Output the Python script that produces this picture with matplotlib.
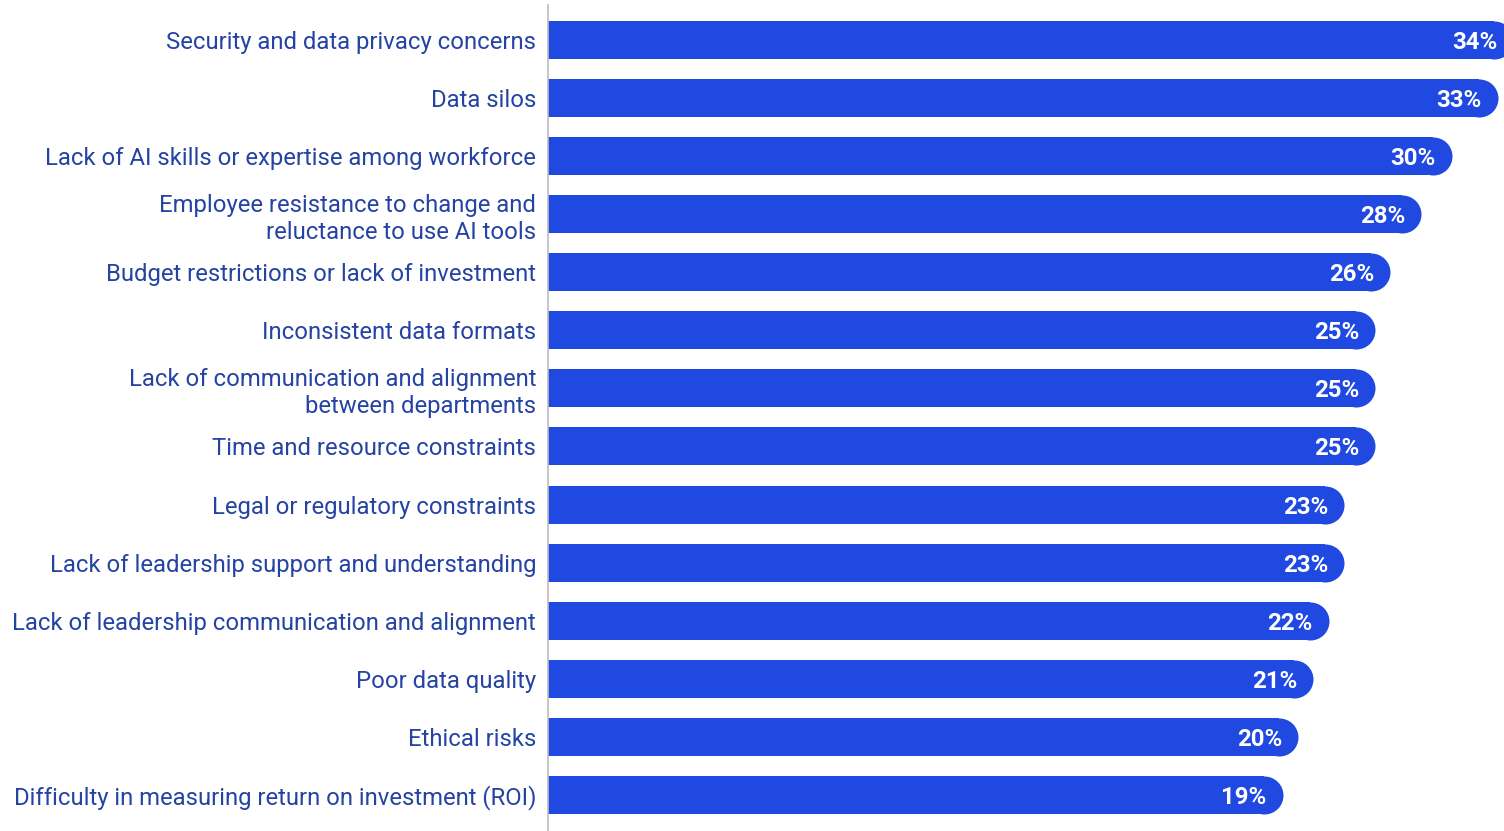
import matplotlib
matplotlib.use("Agg")
import matplotlib.pyplot as plt
import numpy as np

# survey data (top to bottom)
labels = [
    "Security and data privacy concerns",
    "Data silos",
    "Lack of AI skills or expertise among workforce",
    "Employee resistance to change and\nreluctance to use AI tools",
    "Budget restrictions or lack of investment",
    "Inconsistent data formats",
    "Lack of communication and alignment\nbetween departments",
    "Time and resource constraints",
    "Legal or regulatory constraints",
    "Lack of leadership support and understanding",
    "Lack of leadership communication and alignment",
    "Poor data quality",
    "Ethical risks",
    "Difficulty in measuring return on investment (ROI)",
]
values = [34, 33, 30, 28, 26, 25, 25, 25, 23, 23, 22, 21, 20, 19]

bar_color = "#1f49e1"
text_color = "#2443a3"

x_min, x_max = -28.8, 33.4   # axis is truncated, bars start at the left edge
px_per_unit = 956 / (x_max - x_min)
bar_h = 0.655
cap_r = 19 / px_per_unit     # radius of round end in data units

fig = plt.figure(figsize=(15.04, 8.31), dpi=100)
ax = fig.add_axes([548 / 1504, 0, 956 / 1504, 1 - 5 / 831])

y = np.arange(len(values))
vals = np.array(values, dtype=float)

# flat part of the bar + round cap at the end
ax.barh(y, vals - cap_r - x_min, left=x_min, height=bar_h, color=bar_color, linewidth=0)
ax.scatter(vals - cap_r, y, s=(38 * 0.72) ** 2, color=bar_color, linewidths=0, zorder=2)

for yi, v in zip(y, values):
    ax.text(v - 16 / px_per_unit, yi, f"{v}%", ha="right", va="center_baseline",
            color="white", fontsize=17.3, fontweight="bold", family="Roboto", zorder=3)

ax.set_xlim(x_min, x_max)
ax.set_ylim(len(values) - 1 + 0.62, -0.6)

ax.set_yticks(y)
ax.set_yticklabels(labels, fontsize=17.2, color=text_color, family="Roboto",
                   fontweight="normal", linespacing=1.25)
ax.tick_params(axis="y", length=0, pad=8.5)
ax.set_xticks([])

for s in ["top", "right", "bottom"]:
    ax.spines[s].set_visible(False)
ax.spines["left"].set_color("#bcbcbc")
ax.spines["left"].set_linewidth(1.2)
ax.spines["left"].set_zorder(4)

fig.savefig("out.png", dpi=100)
